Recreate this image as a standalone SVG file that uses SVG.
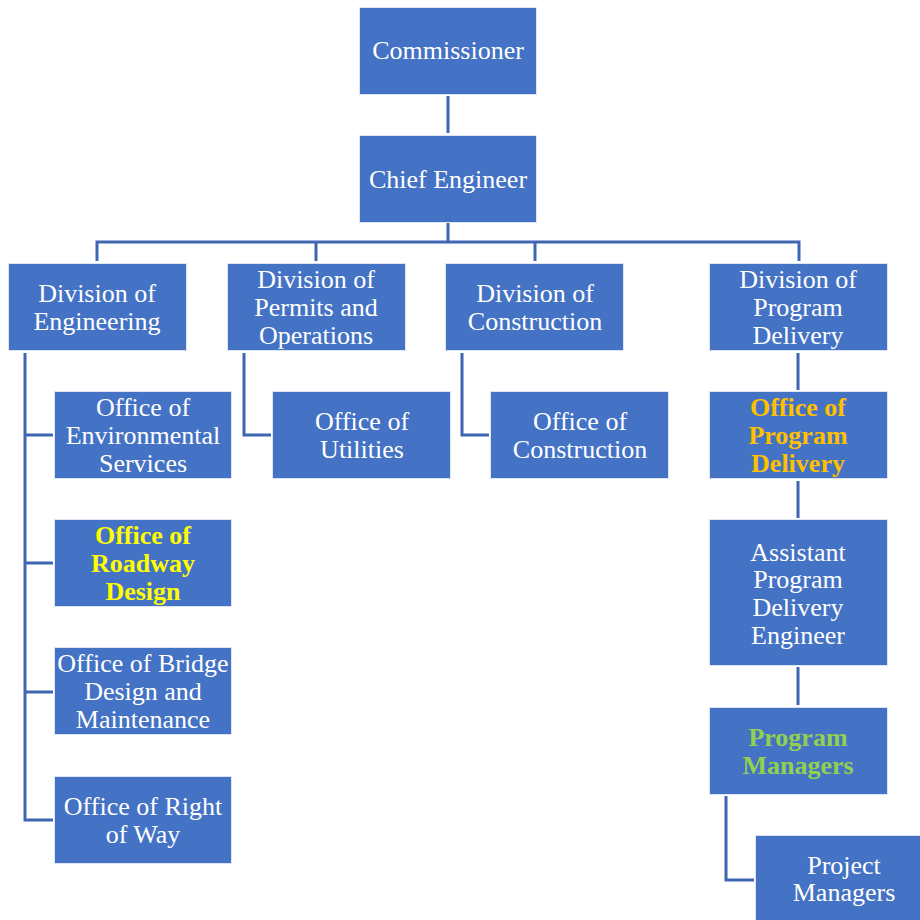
<svg xmlns="http://www.w3.org/2000/svg" width="920" height="920" viewBox="0 0 920 920">
  <style>
    .box { fill: #4472C4; stroke: #dfe6f3; stroke-width: 1; }
    .lbl { font-family: "Liberation Serif", "Times New Roman", serif; font-size: 26px; fill: #ffffff; text-anchor: middle; }
    .bold { font-weight: bold; }
    .yellow { fill: #FFFF00; }
    .gold { fill: #FFC000; }
    .green { fill: #92D050; }
    .conn { fill: none; stroke: #3E66B2; stroke-width: 3; }
  </style>
  <rect width="920" height="920" fill="#ffffff"/>

  <g id="connectors">
    <path class="conn" d="M448 96 V133"/>
    <path class="conn" d="M448 223 V242 M97 261 V242 H799 V261 M316 242 V261 M535 242 V261"/>
    <path class="conn" d="M25 353 V820 H53 M25 435 H53 M25 563 H53 M25 692 H53"/>
    <path class="conn" d="M244 353 V435 H271"/>
    <path class="conn" d="M462 353 V435 H489"/>
    <path class="conn" d="M798 353 V390 M798 481 V518 M798 667 V705"/>
    <path class="conn" d="M726 796 V880 H754"/>
  </g>

  <g id="commissioner">
    <rect class="box" x="359.5" y="7.5" width="177" height="87"/>
    <text class="lbl" x="448" y="59">Commissioner</text>
  </g>
  <g id="chief-engineer">
    <rect class="box" x="359.5" y="135.5" width="177" height="87"/>
    <text class="lbl" x="448" y="188">Chief Engineer</text>
  </g>

  <g id="div-engineering">
    <rect class="box" x="8.5" y="263.5" width="178" height="87"/>
    <text class="lbl" x="97" y="302">Division of</text>
    <text class="lbl" x="97" y="330">Engineering</text>
  </g>
  <g id="div-permits">
    <rect class="box" x="227.5" y="263.5" width="178" height="87"/>
    <text class="lbl" x="316" y="288">Division of</text>
    <text class="lbl" x="316" y="316">Permits and</text>
    <text class="lbl" x="316" y="344">Operations</text>
  </g>
  <g id="div-construction">
    <rect class="box" x="445.5" y="263.5" width="178" height="87"/>
    <text class="lbl" x="535" y="302">Division of</text>
    <text class="lbl" x="535" y="330">Construction</text>
  </g>
  <g id="div-program-delivery">
    <rect class="box" x="709.5" y="263.5" width="178" height="87"/>
    <text class="lbl" x="798" y="288">Division of</text>
    <text class="lbl" x="798" y="316">Program</text>
    <text class="lbl" x="798" y="344">Delivery</text>
  </g>

  <g id="off-environmental">
    <rect class="box" x="54.5" y="391.5" width="177" height="87"/>
    <text class="lbl" x="143" y="416">Office of</text>
    <text class="lbl" x="143" y="444">Environmental</text>
    <text class="lbl" x="143" y="472">Services</text>
  </g>
  <g id="off-roadway">
    <rect class="box" x="54.5" y="519.5" width="177" height="87"/>
    <text class="lbl bold yellow" x="143" y="544">Office of</text>
    <text class="lbl bold yellow" x="143" y="572">Roadway</text>
    <text class="lbl bold yellow" x="143" y="600">Design</text>
  </g>
  <g id="off-bridge">
    <rect class="box" x="54.5" y="647.5" width="177" height="87"/>
    <text class="lbl" x="143" y="672">Office of Bridge</text>
    <text class="lbl" x="143" y="700">Design and</text>
    <text class="lbl" x="143" y="728">Maintenance</text>
  </g>
  <g id="off-right-of-way">
    <rect class="box" x="54.5" y="776.5" width="177" height="87"/>
    <text class="lbl" x="143" y="815">Office of Right</text>
    <text class="lbl" x="143" y="843">of Way</text>
  </g>

  <g id="off-utilities">
    <rect class="box" x="272.5" y="391.5" width="178" height="87"/>
    <text class="lbl" x="362" y="430">Office of</text>
    <text class="lbl" x="362" y="458">Utilities</text>
  </g>
  <g id="off-construction">
    <rect class="box" x="490.5" y="391.5" width="178" height="87"/>
    <text class="lbl" x="580" y="430">Office of</text>
    <text class="lbl" x="580" y="458">Construction</text>
  </g>

  <g id="off-program-delivery">
    <rect class="box" x="709.5" y="391.5" width="178" height="87"/>
    <text class="lbl bold gold" x="798" y="416">Office of</text>
    <text class="lbl bold gold" x="798" y="444">Program</text>
    <text class="lbl bold gold" x="798" y="472">Delivery</text>
  </g>
  <g id="assistant-pde">
    <rect class="box" x="709.5" y="519.5" width="178" height="146"/>
    <text class="lbl" x="798" y="561">Assistant</text>
    <text class="lbl" x="798" y="588">Program</text>
    <text class="lbl" x="798" y="616">Delivery</text>
    <text class="lbl" x="798" y="644">Engineer</text>
  </g>
  <g id="program-managers">
    <rect class="box" x="709.5" y="707.5" width="178" height="87"/>
    <text class="lbl bold green" x="798" y="746">Program</text>
    <text class="lbl bold green" x="798" y="774">Managers</text>
  </g>
  <g id="project-managers">
    <rect class="box" x="755.5" y="835.5" width="178" height="87"/>
    <text class="lbl" x="844" y="874">Project</text>
    <text class="lbl" x="844" y="901">Managers</text>
  </g>
</svg>
